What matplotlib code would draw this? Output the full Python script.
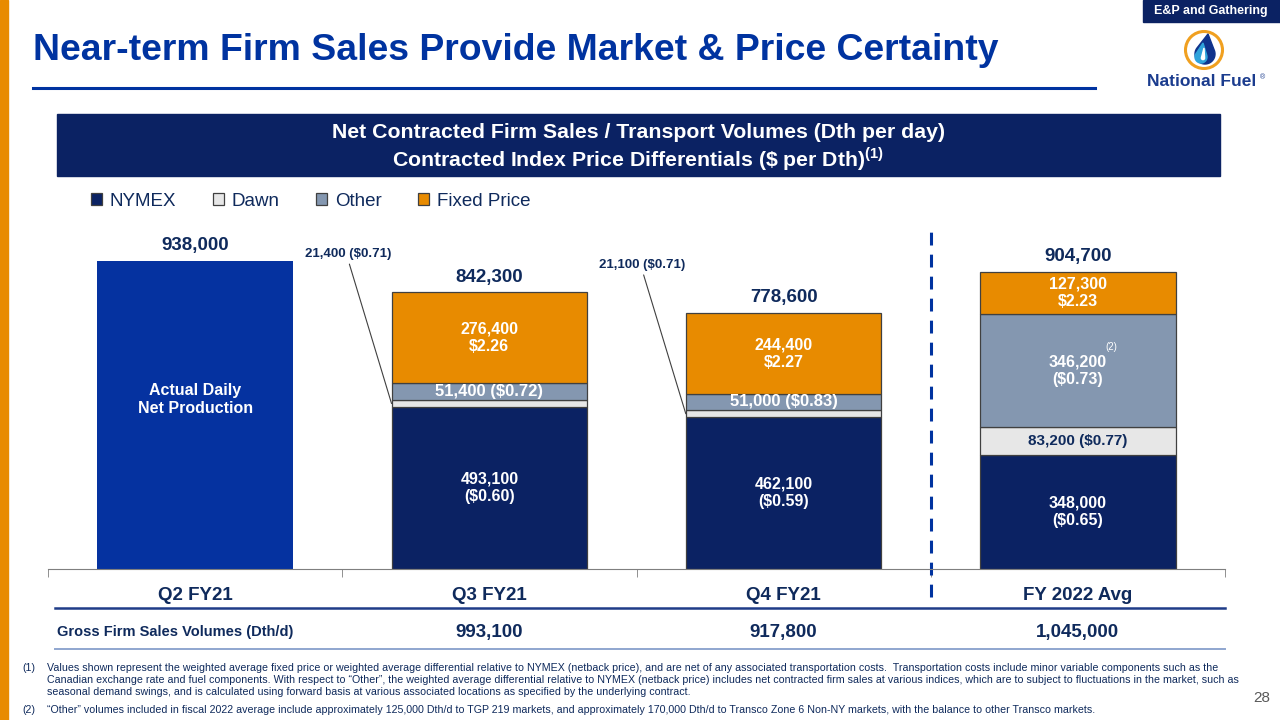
import numpy as np
import matplotlib.pyplot as plt
from matplotlib.patches import Rectangle, Circle, Polygon

plt.rcParams["font.family"] = ["Liberation Sans", "DejaVu Sans"]
plt.rcParams["mathtext.fontset"] = "custom"
plt.rcParams["mathtext.rm"] = "Liberation Sans"
plt.rcParams["mathtext.bf"] = "Liberation Sans:bold"

# ---- data -------------------------------------------------------------
PERIODS = ["Q2 FY21", "Q3 FY21", "Q4 FY21", "FY 2022 Avg"]
ACTUAL_PRODUCTION = [938000, 0, 0, 0]
NYMEX = [0, 493100, 462100, 348000]
DAWN = [0, 21400, 21100, 83200]
OTHER = [0, 51400, 51000, 346200]
FIXED = [0, 276400, 244400, 127300]
NYMEX_DIFF = [np.nan, -0.60, -0.59, -0.65]
DAWN_DIFF = [np.nan, -0.71, -0.71, -0.77]
OTHER_DIFF = [np.nan, -0.72, -0.83, -0.73]
FIXED_PRICE = [np.nan, 2.26, 2.27, 2.23]
GROSS_SALES = [None, 993100, 917800, 1045000]

TITLE = "Near-term Firm Sales Provide Market & Price Certainty"
FOOTNOTE_1 = [
    "Values shown represent the weighted average fixed price or weighted average differential relative to NYMEX (netback price), and are net of any associated transportation costs.  Transportation costs include minor variable components such as the",
    "Canadian exchange rate and fuel components. With respect to \u201cOther\u201d, the weighted average differential relative to NYMEX (netback price) includes net contracted firm sales at various indices, which are to subject to fluctuations in the market, such as",
    "seasonal demand swings, and is calculated using forward basis at various associated locations as specified by the underlying contract.",
]
FOOTNOTE_2 = "\u201cOther\u201d volumes included in fiscal 2022 average include approximately 125,000 Dth/d to TGP 219 markets, and approximately 170,000 Dth/d to Transco Zone 6 Non-NY markets, with the balance to other Transco markets."

# ---- style ------------------------------------------------------------
TITLE_BLUE = "#0033A0"
NAVY = "#0F2A5C"
NYMEX_COLOR = "#0B2263"
ACTUAL_COLOR = "#0532A0"
DAWN_COLOR = "#E7E7E7"
OTHER_COLOR = "#8497B0"
FIXED_COLOR = "#E88B00"
EDGE = "#404040"
BAR_WIDTH = 0.665
DAWN_NOTE_Y = [None, 959000, 926000, None]
FOOT_SIZE = 7.65


def fmt_vol(v):
    return f"{v:,.0f}"


def fmt_price(p):
    return f"(${-p:.2f})" if p < 0 else f"${p:.2f}"


def drop_shape(cx, cy, r, tipx, tipy, n=60):
    d = np.hypot(tipx - cx, tipy - cy)
    phi = np.arctan2(tipy - cy, tipx - cx)
    alpha = np.arccos(r / d)
    t = np.linspace(phi + alpha, phi - alpha + 2 * np.pi, n)
    pts = np.column_stack([cx + r * np.cos(t), cy + r * np.sin(t)])
    return np.vstack([pts, [tipx, tipy]])


fig = plt.figure(figsize=(12.8, 7.2), dpi=100)

# decoration layer in pixel coordinates
deco = fig.add_axes([0, 0, 1, 1], zorder=0)
deco.set_xlim(0, 1280)
deco.set_ylim(720, 0)
deco.axis("off")

deco.add_patch(Rectangle((0, 0), 8, 720, color=FIXED_COLOR))
deco.text(33, 50, TITLE, fontsize=26.9, fontweight="bold", color=TITLE_BLUE,
          va="center", ha="left")
deco.plot([33, 1095], [88, 88], color=TITLE_BLUE, lw=2.2)

deco.add_patch(Rectangle((1143, 0), 137, 22, color=NYMEX_COLOR))
deco.text(1211, 11, "E&P and Gathering", fontsize=9, fontweight="bold",
          color="white", ha="center", va="center")

# logo
deco.add_patch(Circle((1204, 50), 18.5, facecolor="white",
                      edgecolor="#F0A020", lw=2.2))
deco.add_patch(Polygon(drop_shape(1205, 54, 10, 1208, 34), color="#10338C"))
deco.add_patch(Polygon(drop_shape(1201, 57, 6, 1203, 43), color="#2FA3DB"))
deco.add_patch(Polygon(drop_shape(1203, 58, 1.6, 1204, 48), color="white"))
deco.text(1202, 82, "National Fuel", fontsize=12.5, fontweight="bold",
          color="#1B3C8E", ha="center", va="center")
deco.text(1262, 78, "\u00ae", fontsize=5, color="#1B3C8E", ha="center", va="center")

# header box
deco.add_patch(Rectangle((57, 114), 1163, 62, color=NYMEX_COLOR))
deco.text(638, 133, "Net Contracted Firm Sales / Transport Volumes (Dth per day)",
          fontsize=15.3, fontweight="bold", color="white", ha="center", va="center")
deco.text(638, 159, r"Contracted Index Price Differentials (\$ per Dth)$^{\mathbf{(1)}}$",
          fontsize=15.3, fontweight="bold", color="white", ha="center", va="center")

# gross sales row
deco.plot([55, 1225], [608, 608], color="#1F3C88", lw=1.8)
deco.plot([55, 1225], [649, 649], color="#8FA6CF", lw=1.4)
deco.text(57, 632, "Gross Firm Sales Volumes (Dth/d)", fontsize=10.5,
          fontweight="bold", color=NAVY, ha="left", va="center")

# footnotes
deco.text(22, 668, "(1)", fontsize=FOOT_SIZE, color=NAVY, va="center")
for k, line in enumerate(FOOTNOTE_1):
    deco.text(47, 668 + 12 * k, line, fontsize=FOOT_SIZE, color=NAVY, va="center")
deco.text(22, 710, "(2)", fontsize=FOOT_SIZE, color=NAVY, va="center")
deco.text(47, 710, FOOTNOTE_2, fontsize=FOOT_SIZE, color=NAVY, va="center")
deco.text(1262, 698, "28", fontsize=11, color="#595959", ha="center", va="center")

# ---- chart ------------------------------------------------------------
ax = fig.add_axes([48 / 1280, 1 - 569 / 720, 1177 / 1280, 339 / 720], zorder=1)
ax.patch.set_alpha(0)

x = np.arange(len(PERIODS))
actual = np.array(ACTUAL_PRODUCTION)
nymex = np.array(NYMEX)
dawn = np.array(DAWN)
other = np.array(OTHER)
fixed = np.array(FIXED)
firm = nymex > 0

ax.bar(x[~firm], actual[~firm], BAR_WIDTH, color=ACTUAL_COLOR)
b0 = np.zeros(firm.sum())
series = [
    (nymex, NYMEX_COLOR, "NYMEX"),
    (dawn, DAWN_COLOR, "Dawn"),
    (other, OTHER_COLOR, "Other"),
    (fixed, FIXED_COLOR, "Fixed Price"),
]
for vals, col, lab in series:
    ax.bar(x[firm], vals[firm], BAR_WIDTH, bottom=b0, color=col,
           edgecolor=EDGE, lw=0.9, label=lab)
    b0 = b0 + vals[firm]

ax.set_xlim(-0.5, 3.5)
ax.set_ylim(0, 1032000)
for s in ["left", "right", "top"]:
    ax.spines[s].set_visible(False)
ax.spines["bottom"].set_color("#7F7F7F")
ax.set_yticks([])
ax.set_xticks(x)
ax.set_xticklabels(PERIODS, fontsize=13.5, fontweight="bold", color=NAVY)
ax.tick_params(axis="x", which="major", length=0, pad=13)
ax.set_xticks(np.arange(-0.5, len(PERIODS)), minor=True)
ax.tick_params(axis="x", which="minor", length=6, color="#7F7F7F", direction="out")

# segment labels
white_kw = dict(ha="center", va="center", color="white", fontweight="bold",
                fontsize=11.5, linespacing=1.2)
for i in x:
    if not firm[i]:
        ax.text(i, actual[i] * 0.55, "Actual Daily\nNet Production", **white_kw)
        ax.annotate(fmt_vol(actual[i]), (i, actual[i]), xytext=(0, 11),
                    textcoords="offset points", ha="center", va="center",
                    fontsize=13.5, fontweight="bold", color=NAVY)
        continue
    ax.text(i, nymex[i] / 2, f"{fmt_vol(nymex[i])}\n{fmt_price(NYMEX_DIFF[i])}", **white_kw)

    dawn_mid = nymex[i] + dawn[i] / 2
    if dawn[i] >= 50000:
        ax.text(i, dawn_mid, f"{fmt_vol(dawn[i])} {fmt_price(DAWN_DIFF[i])}",
                ha="center", va="center", color=NAVY, fontweight="bold", fontsize=11)
    else:
        ax.annotate(f"{fmt_vol(dawn[i])} {fmt_price(DAWN_DIFF[i])}",
                    xy=(i - BAR_WIDTH / 2, dawn_mid),
                    xytext=(i - 0.48, DAWN_NOTE_Y[i]),
                    ha="center", va="center", color=NAVY, fontweight="bold",
                    fontsize=9.5,
                    arrowprops=dict(arrowstyle="-", color="#404040", lw=0.8,
                                    relpos=(0.5, 0), shrinkA=1, shrinkB=0))

    other_mid = nymex[i] + dawn[i] + other[i] / 2
    if other[i] >= 150000:
        ax.text(i, other_mid, f"{fmt_vol(other[i])}\n{fmt_price(OTHER_DIFF[i])}", **white_kw)
        ax.annotate("(2)", (i, other_mid), xytext=(24, 17), textcoords="offset points",
                    ha="center", va="center", color="white", fontsize=7)
    else:
        ax.text(i, other_mid, f"{fmt_vol(other[i])} {fmt_price(OTHER_DIFF[i])}",
                **{**white_kw, "fontsize": 12})

    fixed_mid = nymex[i] + dawn[i] + other[i] + fixed[i] / 2
    ax.text(i, fixed_mid, f"{fmt_vol(fixed[i])}\n{fmt_price(FIXED_PRICE[i])}", **white_kw)

    total = nymex[i] + dawn[i] + other[i] + fixed[i]
    ax.annotate(fmt_vol(total), (i, total), xytext=(0, 11),
                textcoords="offset points", ha="center", va="center",
                fontsize=13.5, fontweight="bold", color=NAVY)

# gross firm sales values under the axis
for i, g in enumerate(GROSS_SALES):
    if g is not None:
        ax.text(i, -0.186, fmt_vol(g), transform=ax.get_xaxis_transform(),
                ha="center", va="center", fontsize=13.5, fontweight="bold",
                color=NAVY, clip_on=False)

# divider between history and forecast
ax.plot([2.5, 2.5], [-0.083, 1.015], transform=ax.get_xaxis_transform(),
        clip_on=False, color=TITLE_BLUE, lw=2.2, ls=(0, (4.2, 3)))

handles, labels = ax.get_legend_handles_labels()
fig.legend(handles, labels, loc="center left", ncol=4,
           bbox_to_anchor=(91 / 1280, 1 - 201 / 720), frameon=False,
           borderpad=0, borderaxespad=0, handlelength=0.6, handleheight=0.6,
           handletextpad=0.4, columnspacing=1.95, prop={"size": 13.5},
           labelcolor=NAVY)

fig.savefig("out.png", dpi=100)
